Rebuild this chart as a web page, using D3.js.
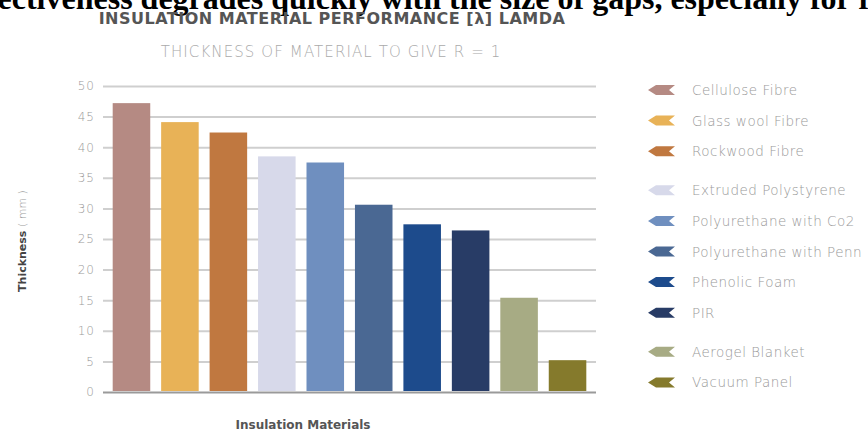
<!DOCTYPE html>
<html>
<head>
<meta charset="utf-8">
<script src="https://cdn.jsdelivr.net/npm/d3@7"></script>
<style>
  html, body { margin: 0; padding: 0; background: #fff; overflow: hidden; }
  svg { display: block; }
</style>
</head>
<body>
<svg id="chart" width="868" height="435"></svg>
<script>
// ---- data ----
const categories = [
  "Cellulose Fibre", "Glass wool Fibre", "Rockwood Fibre", "Extruded Polystyrene",
  "Polyurethane with Co2", "Polyurethane with Penn", "Phenolic Foam", "PIR",
  "Aerogel Blanket", "Vacuum Panel"
];
const thickness = [47.2, 44.1, 42.4, 38.5, 37.5, 30.6, 27.4, 26.4, 15.4, 5.2];
const colors = ["#b58a83", "#e8b257", "#c07840", "#d7d9ea", "#6f8fbf",
                "#4a6893", "#1d4b8c", "#283c66", "#a7ab84", "#857a2c"];
const legendGroup = [0, 0, 0, 1, 1, 1, 1, 1, 2, 2];
const yTicks = [0, 5, 10, 15, 20, 25, 30, 35, 40, 45, 50];
const topText = "effectiveness degrades quickly with the size of gaps, especially for r";
const title = "INSULATION MATERIAL PERFORMANCE [λ] LAMDA";
const subtitle = "THICKNESS OF MATERIAL TO GIVE R = 1";
const xTitle = "Insulation Materials";
const yTitleMain = "Thickness";
const yTitleUnit = " ( mm )";

// ---- layout ----
const svg = d3.select("#chart");
const pLeft = 103, pRight = 596, pTop = 86, pBottom = 392;

const x = d3.scaleBand().domain(categories).range([pLeft, pRight])
  .paddingInner(0.225).paddingOuter(0.2);
const y = d3.scaleLinear().domain([0, 50]).range([pBottom, pTop]);

// top cut-off serif text
svg.append("text")
  .attr("x", -38).attr("y", 9)
  .attr("font-family", "Liberation Serif, Times New Roman, serif")
  .attr("font-weight", "bold").attr("font-size", 32)
  .attr("fill", "#000")
  .text(topText);

// titles
svg.append("text")
  .attr("x", 332).attr("y", 24).attr("text-anchor", "middle")
  .attr("font-family", "DejaVu Sans, sans-serif").attr("font-weight", "bold")
  .attr("font-size", 16).attr("letter-spacing", 0.5).attr("fill", "#555")
  .text(title);
svg.append("text")
  .attr("x", 331).attr("y", 57).attr("text-anchor", "middle")
  .attr("font-family", "DejaVu Sans, sans-serif").attr("font-weight", 200)
  .attr("font-size", 15).attr("letter-spacing", 1.1).attr("fill", "#aaa")
  .text(subtitle);

// y axis with gridlines
const yAxis = d3.axisLeft(y).tickValues(yTicks)
  .tickSizeInner(-(pRight - pLeft)).tickSizeOuter(0).tickPadding(8);
const gy = svg.append("g").attr("transform", `translate(${pLeft},0)`).call(yAxis);
gy.select(".domain").remove();
gy.selectAll(".tick line")
  .attr("stroke", d => d === 0 ? "#9a9a9a" : "#cfcfcf")
  .attr("stroke-width", 2);
gy.selectAll(".tick text")
  .attr("font-family", "DejaVu Sans, sans-serif").attr("font-weight", 200)
  .attr("font-size", 12).attr("letter-spacing", 1)
  .attr("fill", "#9a9a9a");

// bars
svg.append("g").selectAll("rect")
  .data(categories)
  .join("rect")
  .attr("x", d => x(d))
  .attr("y", (d, i) => y(thickness[i]))
  .attr("width", x.bandwidth())
  .attr("height", (d, i) => y(0) - y(thickness[i]) - 1)
  .attr("fill", (d, i) => colors[i]);

// axis titles
svg.append("text")
  .attr("x", 303).attr("y", 429).attr("text-anchor", "middle")
  .attr("font-family", "DejaVu Sans, sans-serif").attr("font-weight", "bold")
  .attr("font-size", 12).attr("fill", "#555")
  .text(xTitle);

const yt = svg.append("text")
  .attr("transform", "translate(26,241) rotate(-90)")
  .attr("text-anchor", "middle")
  .attr("font-family", "DejaVu Sans, sans-serif")
  .attr("font-size", 11);
yt.append("tspan").attr("font-weight", "bold").attr("fill", "#444").text(yTitleMain);
yt.append("tspan").attr("font-weight", 200).attr("fill", "#999").text(yTitleUnit);

// legend
const lg = svg.append("g").selectAll("g")
  .data(categories)
  .join("g")
  .attr("transform", (d, i) => `translate(648,${90 + i * 30.6 + legendGroup[i] * 8.5})`);
lg.append("path")
  .attr("d", "M0,0 L8,-5 L27,-5 L21,0 L27,5 L8,5 Z")
  .attr("fill", (d, i) => colors[i]);
lg.append("text")
  .attr("x", 44).attr("y", 5)
  .attr("font-family", "DejaVu Sans, sans-serif").attr("font-weight", 200)
  .attr("font-size", 13.5).attr("letter-spacing", 0.5)
  .attr("fill", "#999")
  .text(d => d);
</script>
</body>
</html>
